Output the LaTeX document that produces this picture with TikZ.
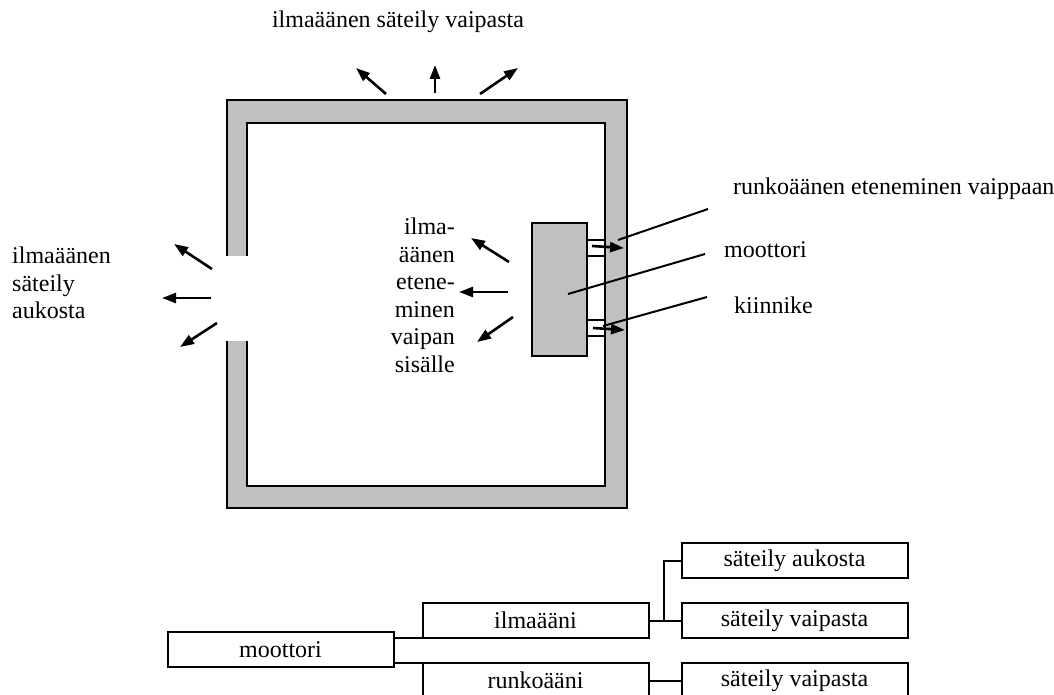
\documentclass[tikz,border=0pt]{standalone}
\usepackage{fontspec}
\setmainfont{Liberation Serif}
\usetikzlibrary{arrows.meta, positioning}
\definecolor{wallgray}{RGB}{192,192,192}

\begin{document}
\begin{tikzpicture}[
        x=1pt, y=-1pt,
        every node/.style={font=\fontsize{24}{27.5}\selectfont, inner sep=0pt},
        arrow/.style={-{Triangle[length=14pt, width=10pt]}, line width=2.6pt},
        leader/.style={line width=2pt}
    ]

    \tikzset{
    wall/.style={fill=wallgray, draw, line width=2pt},
    mount/.style={fill=white, draw, line width=2pt},
    box/.style={draw, line width=2pt, outer sep=0pt, minimum width=226pt, minimum height=35pt}
}

    \useasboundingbox (0,0) rectangle (1054,695);

    % casing with the opening on the left
    \draw[wall] (227,100) rectangle (627,508);
    \draw[mount] (247,123) rectangle (605,486);
    \fill[white] (225,256) rectangle (249,341);

    % motor and its mounts
    \draw[wall] (532,223) rectangle (587,356);
    \draw[mount] (587,240) rectangle (605,256);
    \draw[mount] (587,320) rectangle (605,336);

    \draw[arrow] (592,246) -- (624,248);
    \draw[arrow] (593,328) -- (625,330);

    \draw[arrow] (386,94) -- (356,68);
    \draw[arrow] (435,93) -- (435,65);
    \draw[arrow] (480,94) -- (518,68);

    \draw[arrow] (212,269) -- (174,244);
    \draw[arrow] (211,298) -- (162,298);
    \draw[arrow] (217,323) -- (180,347);

    \draw[arrow] (509,262) -- (471,238);
    \draw[arrow] (508,292) -- (459,292);
    \draw[arrow] (513,317) -- (477,342);

    \node (topLbl) [anchor=base] at (398,28) {ilmaäänen säteily vaipasta};
    \node (leftLbl) [anchor=north west, align=left] at (12,247) {ilmaäänen\\säteily\\aukosta};
    \node (innerLbl) [anchor=north east, align=right] at (455,218) {ilma-\\äänen\\etene-\\minen\\vaipan\\sisälle};
    \node (runkoLbl) [anchor=base west] at (733,195) {runkoäänen eteneminen vaippaan};
    \node (motorLbl) [anchor=base west] at (724,257) {moottori};
    \node (mountLbl) [anchor=base west] at (734,313) {kiinnike};

    \draw[leader] (618,240) -- (708,209);
    \draw[leader] (568,294) -- (705,254);
    \draw[leader] (603,326) -- (707,297);

    % tree
    \node (moot) [box] at (280.5,649.5) {moottori};
    \node (ilma) [box, above right=-6pt and 29pt of moot.north east] {ilmaääni};
    \node (runko) [box, below right=-4pt and 29pt of moot.south east] {runkoääni};
    \node (vaipA) [box, right=33pt of ilma] {säteily vaipasta};
    \node (aukko) [box, above=25pt of vaipA] {säteily aukosta};
    \node (vaipB) [box, right=33pt of runko] {säteily vaipasta};
    \coordinate [right=15pt of ilma.east] (fork);

    \draw[leader] (moot.east |- ilma.south west) -- (ilma.south west);
    \draw[leader] (moot.east |- runko.north west) -- (runko.north west);
    \draw[leader] (ilma.east) -- (vaipA.west);
    \draw[leader] (fork) |- (aukko.west);
    \draw[leader] (runko.east) -- (vaipB.west);
    \end{tikzpicture}
\end{document}
